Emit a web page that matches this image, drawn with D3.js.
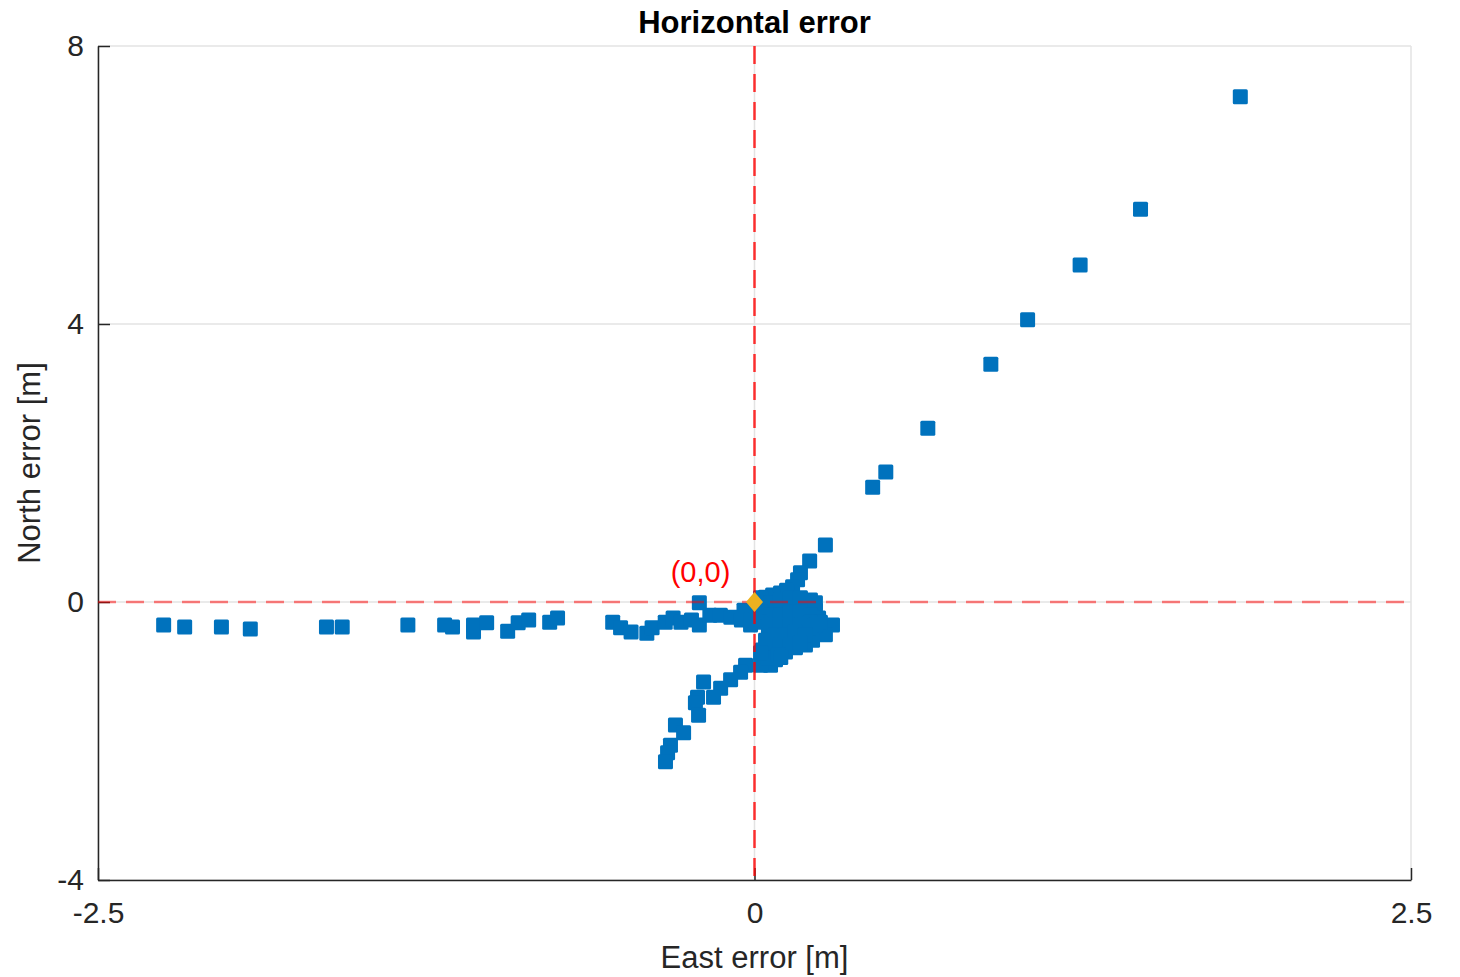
<!DOCTYPE html>
<html>
<head>
<meta charset="utf-8">
<style>
  body { margin: 0; background: #fff; }
  text { font-family: "Liberation Sans", Arial, sans-serif; }
</style>
</head>
<body>
<svg id="chart" width="1460" height="977"></svg>
<script src="https://cdn.jsdelivr.net/npm/d3@7"></script>
<script>
// east / north error in metres
var eastErr = [
  1.85, 1.47, 1.24, 1.04, 0.90, 0.66, 0.50, 0.45, 0.27, 0.21,
  0.175, 0.164, 0.145, 0.122, 0.099, 0.069, 0.042, 0.023,
  0.232, 0.232, 0.244, 0.297, 0.251, 0.270, 0.221, 0.194, 0.156, 0.118, 0.080, 0.061, 0.023, 0.061,
  0.042, 0.080, 0.118, 0.156, 0.194, 0.042, 0.080, 0.118, 0.156, 0.194,
  0.053, 0.099, 0.137, 0.175, 0.213, 0.042, 0.080, 0.118, 0.156, 0.030, 0.080, 0.011, -0.015,
  0.061, 0.099, 0.137, 0.175, 0.213, 0.023, 0.061, 0.099, 0.137, 0.175, 0.213, 0.251,
  0.023, 0.061, 0.099, 0.137, 0.175, 0.213, 0.232, 0.080, 0.118, 0.156, 0.194,
  0.061, 0.099, 0.137, 0.175, 0.053, 0.091, 0.100, -0.040, 0.000,
  -2.25, -2.17, -2.03, -1.92, -1.63, -1.57, -1.32, -1.18, -1.15, -1.07, -1.07, -1.02,
  -0.94, -0.90, -0.86, -0.78, -0.75, -0.54, -0.51, -0.47, -0.41, -0.39, -0.34, -0.31,
  -0.28, -0.24, -0.21, -0.21, -0.17, -0.13, -0.09, -0.05, -0.015,
  0.023, -0.034, -0.053, -0.091, -0.129, -0.156, -0.194, -0.217, -0.225, -0.213,
  -0.301, -0.270, -0.320, -0.331, -0.339
];
var northErr = [
  7.27, 5.65, 4.85, 4.06, 3.42, 2.50, 1.87, 1.65, 0.82, 0.59,
  0.42, 0.32, 0.22, 0.17, 0.13, 0.10, 0.07, 0.06,
  -0.12, -0.01, -0.23, -0.33, -0.40, -0.47, -0.55, -0.62, -0.66, -0.72, -0.83, -0.91, -0.91, -0.76,
  -0.12, -0.12, -0.04, -0.04, -0.04, -0.26, -0.26, -0.26, -0.26, -0.26,
  -0.43, -0.40, -0.40, -0.40, -0.37, -0.55, -0.55, -0.55, -0.52, -0.69, -0.66, -0.26, -0.33,
  -0.01, 0.03, 0.06, 0.06, 0.03, -0.14, -0.19, -0.19, -0.14, -0.14, -0.19, -0.29,
  -0.29, -0.33, -0.33, -0.33, -0.33, -0.29, -0.33, -0.47, -0.47, -0.43, -0.47,
  -0.62, -0.62, -0.62, -0.59, -0.81, -0.76, -0.80, -0.12, -0.15,
  -0.33, -0.36, -0.36, -0.39, -0.36, -0.36, -0.33, -0.33, -0.36, -0.33, -0.43, -0.30,
  -0.42, -0.30, -0.26, -0.29, -0.23, -0.29, -0.37, -0.43, -0.45, -0.37, -0.29, -0.23,
  -0.29, -0.26, -0.01, -0.33, -0.19, -0.19, -0.22, -0.26, -0.26,
  -0.73, -0.91, -1.01, -1.12, -1.24, -1.37, -1.15, -1.37, -1.45, -1.63,
  -1.77, -1.88, -2.06, -2.17, -2.30
];
var xTicks = [-2.5, 0, 2.5];
var yTicks = [-4, 0, 4, 8];
var origin = [{ x: 0, y: 0 }];

var points = eastErr.map(function (e, i) { return { x: e, y: northErr[i] }; });

var svg = d3.select('#chart');
var pLeft = 98, pRight = 1411, pTop = 46, pBottom = 880;
var x = d3.scaleLinear().domain([-2.5, 2.5]).range([pLeft, pRight]);
var y = d3.scaleLinear().domain([-4, 8]).range([pBottom, pTop]);
var plain = function (d) { return String(d); };

// grid
var grid = svg.append('g').attr('stroke', '#e3e3e3').attr('stroke-width', 1.5);
grid.selectAll('.gx').data(xTicks).enter().append('line')
  .attr('x1', function (d) { return x(d); }).attr('x2', function (d) { return x(d); })
  .attr('y1', pTop).attr('y2', pBottom);
grid.selectAll('.gy').data(yTicks).enter().append('line')
  .attr('x1', pLeft).attr('x2', pRight)
  .attr('y1', function (d) { return y(d); }).attr('y2', function (d) { return y(d); });

// axes (inward ticks)
var xAxis = svg.append('g').attr('transform', 'translate(0,' + pBottom + ')')
  .call(d3.axisBottom(x).tickValues(xTicks).tickSizeInner(-12).tickSizeOuter(0).tickPadding(22).tickFormat(plain));
var yAxis = svg.append('g').attr('transform', 'translate(' + pLeft + ',0)')
  .call(d3.axisLeft(y).tickValues(yTicks).tickSizeInner(-12).tickSizeOuter(0).tickPadding(14).tickFormat(plain));
[xAxis, yAxis].forEach(function (a) {
  a.select('.domain').attr('stroke', '#262626').attr('stroke-width', 1.5);
  a.selectAll('.tick line').attr('stroke', '#262626').attr('stroke-width', 1.5);
  a.selectAll('.tick text').attr('fill', '#262626').style('font-size', '30px')
    .style('font-family', '"Liberation Sans", Arial, sans-serif');
});

// scatter
svg.append('g').selectAll('rect').data(points).enter().append('rect')
  .attr('x', function (d) { return x(d.x) - 7.5; })
  .attr('y', function (d) { return y(d.y) - 7.5; })
  .attr('width', 15).attr('height', 15).attr('rx', 1.5)
  .attr('fill', '#0072BD');

// reference dashed lines
var ref = svg.append('g').attr('stroke', '#ff0000').attr('stroke-opacity', 0.5)
  .attr('stroke-width', 2.5).attr('stroke-dasharray', '18,10');
ref.append('line').attr('x1', pLeft).attr('x2', pRight).attr('y1', y(0)).attr('y2', y(0));
ref.append('line').attr('x1', x(0)).attr('x2', x(0)).attr('y1', pTop).attr('y2', pBottom)
  .attr('stroke-opacity', 0.8);

// origin marker
svg.append('g').selectAll('path').data(origin).enter().append('path')
  .attr('d', 'M0,-10L8.5,0L0,10L-8.5,0Z')
  .attr('transform', function (d) { return 'translate(' + x(d.x) + ',' + y(d.y) + ')'; })
  .attr('fill', '#EDB120');

svg.append('text').attr('x', x(0) - 54).attr('y', y(0) - 20)
  .attr('text-anchor', 'middle').attr('fill', '#ff0000').style('font-size', '29px').text('(0,0)');

// title and labels
svg.append('text').attr('x', (pLeft + pRight) / 2).attr('y', 33).attr('text-anchor', 'middle')
  .attr('fill', '#000').style('font-size', '31px').style('font-weight', 'bold').text('Horizontal error');
svg.append('text').attr('x', (pLeft + pRight) / 2).attr('y', 968).attr('text-anchor', 'middle')
  .attr('fill', '#262626').style('font-size', '31px').text('East error [m]');
svg.append('text').attr('transform', 'translate(40,' + ((pTop + pBottom) / 2) + ') rotate(-90)')
  .attr('text-anchor', 'middle').attr('fill', '#262626').style('font-size', '31px').text('North error [m]');
</script>
</body>
</html>
